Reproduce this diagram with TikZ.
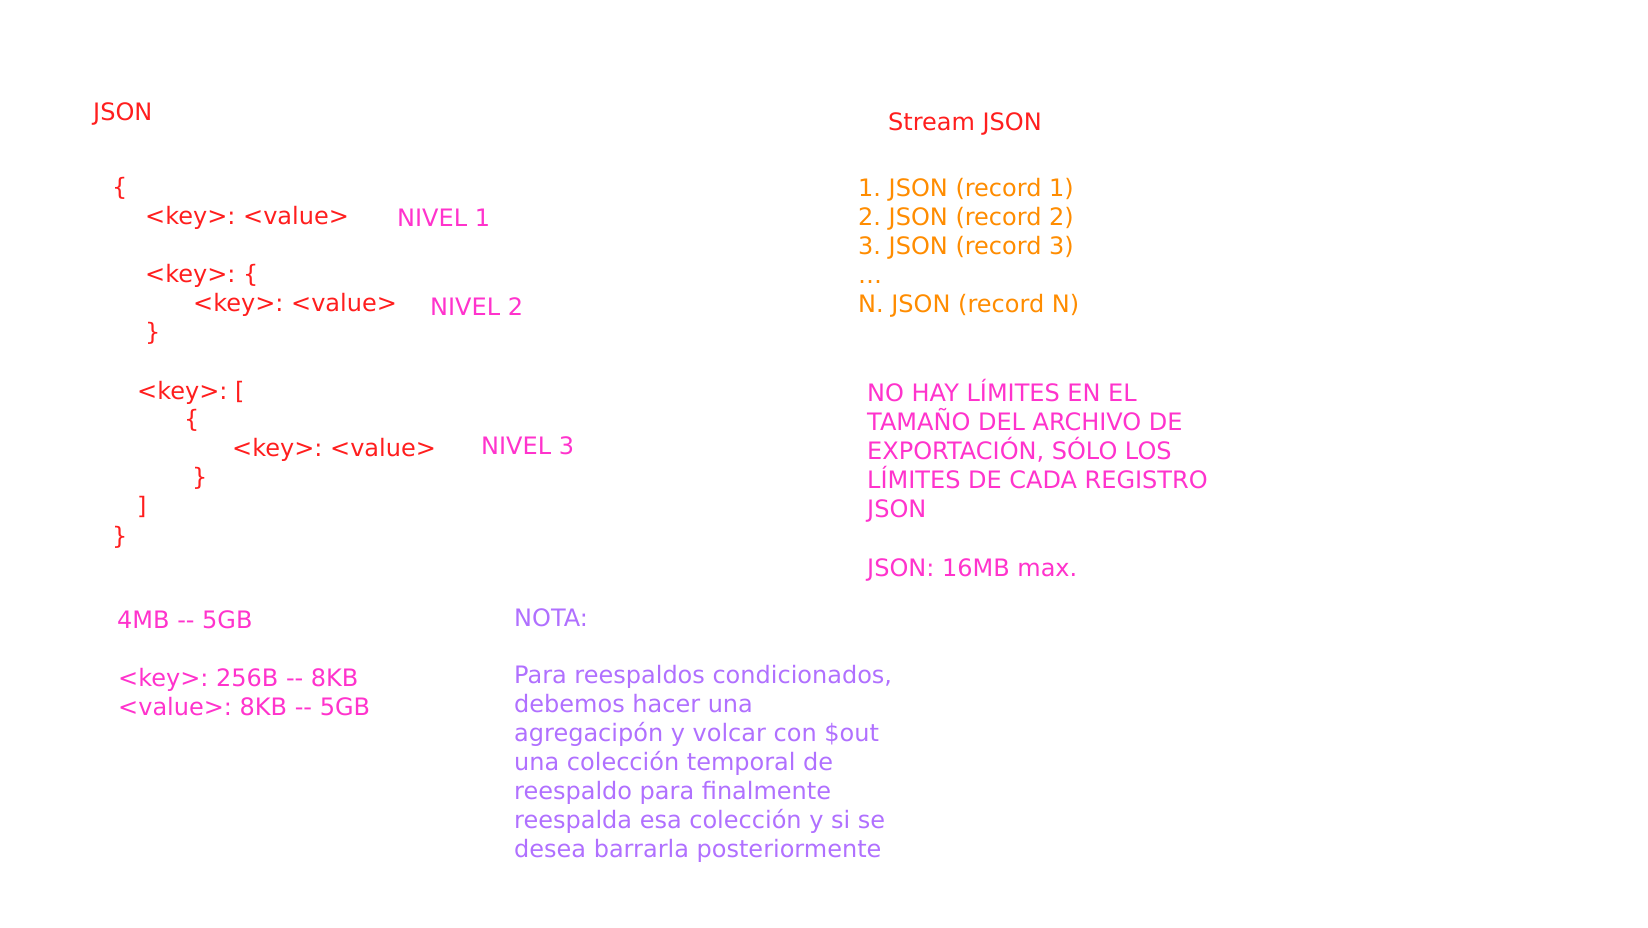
\documentclass[tikz,border=0pt]{standalone}
\usepackage{fontspec}
\setmainfont{DejaVu Sans}
\usepackage{xcolor}
\usetikzlibrary{positioning}
\frenchspacing

\definecolor{jsonred}{RGB}{255,30,30}
\definecolor{levelpink}{RGB}{255,51,204}
\definecolor{recorange}{RGB}{255,140,0}
\definecolor{notepurple}{RGB}{176,112,255}

\begin{document}
\begin{tikzpicture}[
    x=1pt, y=-1pt,
    txt/.style={anchor=west, inner sep=0pt, font=\fontsize{24}{29}\selectfont, text height=17pt, text depth=5pt},
    code/.style={txt, text=jsonred},
    level/.style={txt, text=levelpink},
    rec/.style={txt, text=recorange},
    note/.style={txt, text=notepurple}
  ]
    \useasboundingbox (0,0) rectangle (1648,927);

    % JSON structure
    \node[code] (title) at (93,114) {JSON};
    \node[code] (open) at (112,189) {\{};
    \node[code] (kv1) at (145,218) {<key>: <value>};
    \node[level] (lvl1) at (397,220) {NIVEL 1};
    \node[code] (obj) at (145,276) {<key>: \{};
    \node[code] (kv2) at (193,305) {<key>: <value>};
    \node[level] (lvl2) at (430,309) {NIVEL 2};
    \node[code] (objend) at (145,334) {\}};
    \node[code] (arr) at (137,393) {<key>: [};
    \node[code] (arrobj) at (184,421) {\{};
    \node[code] (kv3) at (232,450) {<key>: <value>};
    \node[level] (lvl3) at (481,448) {NIVEL 3};
    \node[code] (arrobjend) at (192,479) {\}};
    \node[code] (arrend) at (137,508) {]};
    \node[code] (close) at (112,538) {\}};

    % sizes
    \node[level] (size) at (117,622) {4MB -{}- 5GB};
    \node[level] (keysize) at (118,680) {<key>: 256B -{}- 8KB};
    \node[level] (valsize) at (118,709) {<value>: 8KB -{}- 5GB};

    % stream
    \node[code] (stream) at (888,124) {Stream JSON};
    \foreach \t [count=\i] in {{1. JSON (record 1)},{2. JSON (record 2)},{3. JSON (record 3)},{\dots},{N. JSON (record N)}}
      \node[rec] (rec\i) at (858,{190+29.2*(\i-1)}) {\t};

    % limits
    \foreach \t [count=\i] in {{NO HAY LÍMITES EN EL},{TAMAÑO DEL ARCHIVO DE},{EXPORTACIÓN, SÓLO LOS},{LÍMITES DE CADA REGISTRO},{JSON}}
      \node[level] (lim\i) at (867,{395+29.2*(\i-1)}) {\t};
    \node[level] (maxsize) at (867,570) {JSON: 16MB max.};

    % note
    \node[note] (nota) at (514,620) {NOTA:};
    \foreach \t [count=\i] in {{Para reespaldos condicionados,},{debemos hacer una},{agregacipón y volcar con \$out},{una colección temporal de},{reespaldo para finalmente},{reespalda esa colección y si se},{desea barrarla posteriormente}}
      \node[note] (note\i) at (514,{677+29.1*(\i-1)}) {\t};
\end{tikzpicture}
\end{document}
